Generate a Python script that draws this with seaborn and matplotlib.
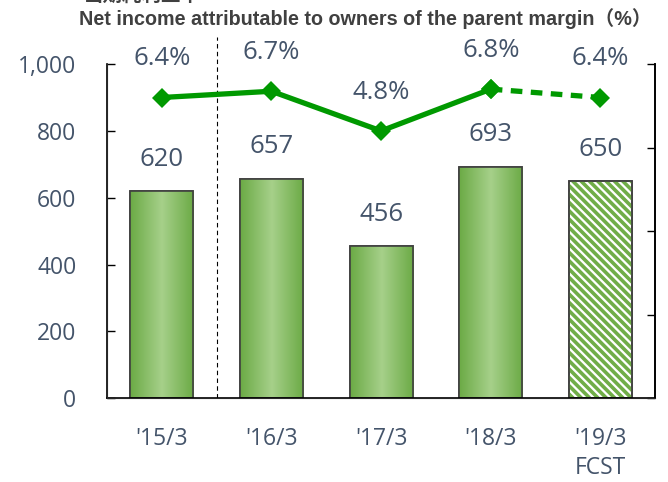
import numpy as np
import pandas as pd
import matplotlib.pyplot as plt
import seaborn as sns
from matplotlib.colors import LinearSegmentedColormap

# Chart values
periods = ["'15/3", "'16/3", "'17/3", "'18/3", "'19/3\nFCST"]
net_income = [620, 657, 456, 693, 650]
margin = [6.4, 6.7, 4.8, 6.8, 6.4]
margin_labels = ["6.4%", "6.7%", "4.8%", "6.8%", "6.4%"]

df = pd.DataFrame({'period': periods, 'net_income': net_income, 'margin': margin})

sns.set_style("white")
plt.rcParams['font.family'] = ['Open Sans', 'Noto Sans CJK JP', 'DejaVu Sans']
plt.rcParams['hatch.linewidth'] = 2.6
text_color = "#44546A"

fig = plt.figure(figsize=(6.68, 4.82), dpi=100)
ax = fig.add_axes([0.160, 0.174, 0.821, 0.693])

# Bars - gradient for actuals, hatch for forecast
sns.barplot(data=df, x='period', y='net_income', color="#8CC06A", width=0.575,
            edgecolor="#404040", linewidth=1.2, ax=ax, zorder=2)
green_grad = LinearSegmentedColormap.from_list("g", ["#6BAA45", "#A6D08A", "#6BAA45"])
for i, bar in enumerate(ax.patches):
    x0, w, h = bar.get_x(), bar.get_width(), bar.get_height()
    if i < len(periods) - 1:
        im = ax.imshow(np.linspace(0, 1, 256).reshape(1, -1), cmap=green_grad, aspect='auto',
                       extent=[x0, x0 + w, 0, h], zorder=2.1)
        im.set_clip_path(bar)
    else:
        bar.set_facecolor("white")
        ax.bar(x0 + w / 2, h, width=w, facecolor="none", edgecolor="#70AD47",
               hatch='\\\\\\\\', linewidth=0, zorder=2.1)
    ax.bar(x0 + w / 2, h, width=w, facecolor="none", edgecolor="#404040", linewidth=1.2, zorder=2.2)
    ax.text(x0 + w / 2, h + 95, f"{net_income[i]}", ha='center', va='center',
            fontsize=18.5, color=text_color)

ax.set_xlim(-0.5, len(periods) - 0.5)
ax.set_ylim(0, 1000)
ax.set_yticks(range(0, 1001, 200))
ax.set_yticklabels(["0", "200", "400", "600", "800", "1,000"])
ax.set_xticks(range(len(periods)))
ax.set_xticklabels(periods, linespacing=1.25)
ax.set_xlabel("")
ax.set_ylabel("")
ax.tick_params(axis='y', direction='in', length=6, width=1, colors="black",
               labelcolor=text_color, labelsize=16.5, pad=22)
ax.tick_params(axis='x', which='major', length=0, labelcolor=text_color, labelsize=16.5, pad=21)
ax.set_xticks([0.5, 1.5, 2.5, 3.5], minor=True)
ax.tick_params(axis='x', which='minor', direction='in', length=6, width=1, colors="black")
for side in ['left', 'bottom', 'right']:
    ax.spines[side].set_color("black")
    ax.spines[side].set_linewidth(1.2)
ax.spines['top'].set_visible(False)

# Dashed divider between '15/3 and '16/3
ax.axvline(0.5, ymin=0, ymax=1.081, color="black", linestyle=(0, (4, 3)), linewidth=0.8,
           clip_on=False, zorder=1)

# Margin line on secondary axis
ax2 = ax.twinx()
sns.lineplot(x=[0, 1, 2, 3], y=margin[:4], color="#009900", linewidth=3.8, marker='D',
             markersize=10, markeredgewidth=0, ax=ax2)
sns.lineplot(x=[3, 4], y=margin[3:], color="#009900", linewidth=3.8, linestyle=(0, (2.2, 1.6)),
             marker='D', markersize=10, markeredgewidth=0, ax=ax2)
ax2.set_ylim(-8, 8)
ax2.set_yticks([-8, -4, 0, 4, 8])
ax2.set_yticklabels([])
ax2.tick_params(axis='y', direction='in', length=6, width=1, colors="black")
ax2.spines['top'].set_visible(False)
ax2.spines['right'].set_color("black")
ax2.spines['right'].set_linewidth(1.2)
for i, lab in enumerate(margin_labels):
    ax2.text(i, margin[i] + 1.85, lab, ha='center', va='center', fontsize=18.5, color=text_color)

# Titles
fig.text(0.547, 0.962, "Net income attributable to owners of the parent margin（%）",
         ha='center', va='center', fontsize=14.2, fontweight='bold', color="#404040",
         family=['Liberation Sans', 'Noto Sans CJK JP'])
fig.text(0.125, 0.991, "当期純利益率", ha='left', va='bottom', fontsize=14, fontweight='bold',
         color="#404040", family=['Noto Sans CJK JP'])

fig.savefig("out.png", dpi=100)
